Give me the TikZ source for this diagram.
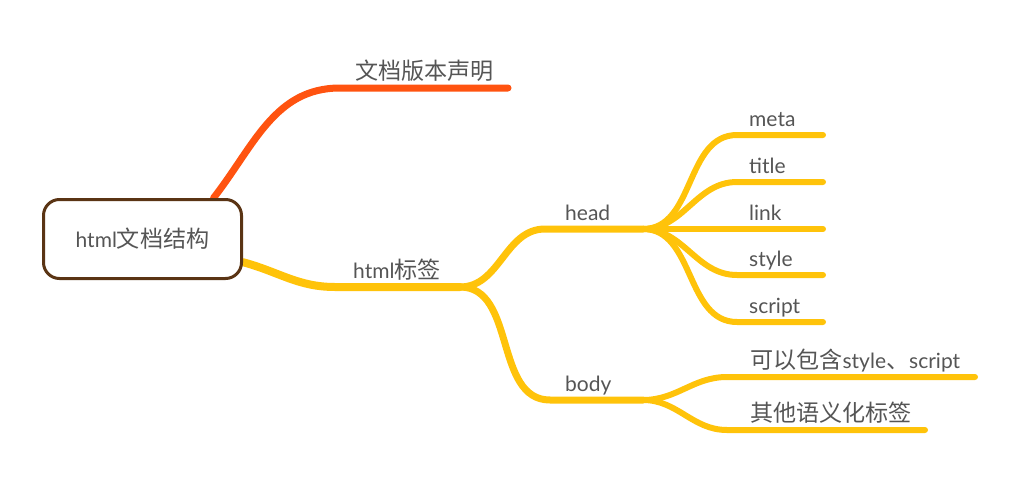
\documentclass[tikz,border=0pt]{standalone}
\usepackage{fontspec}
\setmainfont{Lato}
\newfontfamily\zh{Noto Sans CJK SC}[Scale=1.1]
\usetikzlibrary{positioning,backgrounds}
\definecolor{branchorange}{HTML}{FF5310}
\definecolor{branchyellow}{HTML}{FFC30A}
\definecolor{rootbrown}{HTML}{5A3414}
\definecolor{textgray}{HTML}{555555}
\newcommand\mapfont{\fontsize{21}{25}\selectfont}

\begin{document}
\begin{tikzpicture}[x=1pt,y=-1pt,
topic/.style={rectangle, draw=rootbrown, line width=3pt, rounded corners=16pt, fill=white, minimum width=198pt, minimum height=79pt, text=textgray, font=\mapfont},
word/.style={text=textgray, font=\mapfont, inner sep=0pt, anchor=base west},
twig/.style={line width=#1, line cap=round, draw=branchyellow},
twig/.default=6pt
]
	\useasboundingbox (0,0) rectangle (1012,490);
	\node at (142.5,239) [topic] (root) {html{\zh 文档结构}};

	\coordinate (decl-bend) at (340,88);
	\coordinate (decl-end) at (508,88);
	\node [word] at (355,79) (decl) {\zh 文档版本声明};

	\coordinate (html-bend) at (335,287);
	\coordinate (html-split) at (460,287);
	\node [word] at (353,278) (html) {html{\zh 标签}};

	\coordinate (head-bend) at (545,229);
	\coordinate (head-split) at (643,229);
	\node [word] at (565,220) (head) {head};

	\coordinate (body-bend) at (550,400);
	\coordinate (body-split) at (643,400);
	\node [word] at (565,391) (body) {body};

	\coordinate (incl-bend) at (727,377);
	\coordinate (incl-end) at (975,377);
	\node [word] at (750,368) (incl) {{\zh 可以包含}style{\zh 、}script};

	\coordinate (sem-bend) at (727,430);
	\coordinate (sem-end) at (925,430);
	\node [word] at (750,421) (sem) {\zh 其他语义化标签};

	\begin{scope}[on background layer]
		\draw [line width=7pt, line cap=round, draw=branchorange] (root.30) to[out=52,in=180] (decl-bend) -- (decl-end);
		\draw [twig=8pt] (root.-13) to[out=-15,in=180] (html-bend) -- (html-split);
		\draw [twig=7pt] (html-split) to[out=0,in=180] (head-bend) -- (head-split);
		\draw [twig=7pt] (html-split) to[out=0,in=180] (body-bend) -- (body-split);
		\draw [twig] (body-split) to[out=0,in=180] (incl-bend) -- (incl-end);
		\draw [twig] (body-split) to[out=0,in=180] (sem-bend) -- (sem-end);
	\end{scope}

	\foreach \tagname/\y in {meta/135,title/182,link/229,style/275,script/322} {
		\coordinate (\tagname-bend) at (737,\y);
		\coordinate (\tagname-end) at (823,\y);
		\node [word] at (749,{\y-9}) (\tagname) {\tagname};
		\begin{scope}[on background layer]
			\draw [twig] (head-split) to[out=0,in=180] (\tagname-bend) -- (\tagname-end);
		\end{scope}
	}
\end{tikzpicture}
\end{document}
